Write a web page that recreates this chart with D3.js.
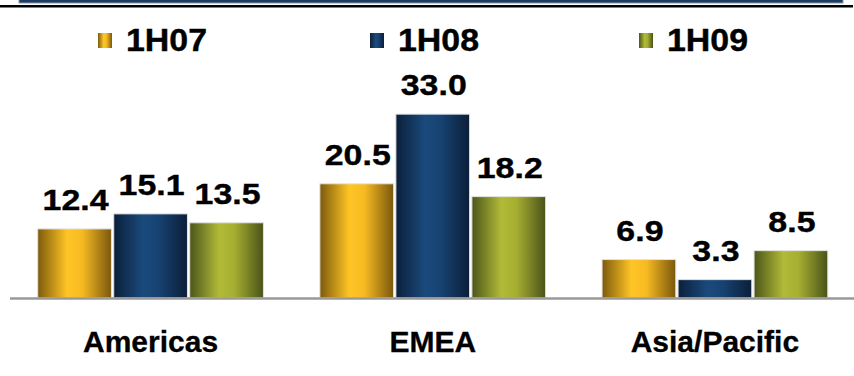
<!DOCTYPE html>
<html>
<head>
<meta charset="utf-8">
<script src="https://cdn.jsdelivr.net/npm/d3@7"></script>
<style>
  html, body { margin: 0; padding: 0; background: #fff; }
  svg { display: block; font-family: "Liberation Sans", Arial, Helvetica, sans-serif; }
</style>
</head>
<body>
<svg id="chart" width="854" height="376"></svg>
<script>
const categories = ["Americas", "EMEA", "Asia/Pacific"];
const seriesNames = ["1H07", "1H08", "1H09"];
const values1H07 = [12.4, 20.5, 6.9];
const values1H08 = [15.1, 33.0, 3.3];
const values1H09 = [13.5, 18.2, 8.5];
const seriesValues = [values1H07, values1H08, values1H09];

const W = 854, H = 376;
const svg = d3.select("#chart");
const defs = svg.append("defs");

const palettes = [
  { edgeL: "#7d5a0c", mid: "#ffc526", mid2: "#f7bb22", edgeR: "#7a570c" },
  { edgeL: "#0b1f3a", mid: "#1a4a7c", mid2: "#174373", edgeR: "#0b1e38" },
  { edgeL: "#4c561a", mid: "#b2ba38", mid2: "#a7af32", edgeR: "#4a5318" }
];
palettes.forEach((p, i) => {
  const g = defs.append("linearGradient").attr("id", "grad" + i)
    .attr("x1", "0%").attr("x2", "100%").attr("y1", "0%").attr("y2", "0%");
  g.append("stop").attr("offset", "0%").attr("stop-color", p.edgeL);
  g.append("stop").attr("offset", "40%").attr("stop-color", p.mid);
  g.append("stop").attr("offset", "60%").attr("stop-color", p.mid2);
  g.append("stop").attr("offset", "100%").attr("stop-color", p.edgeR);
});

// top decoration
svg.append("rect").attr("x", 19).attr("y", -2).attr("width", 824).attr("height", 5)
  .attr("fill", "#1c3a64").attr("stroke", "#8a98ad").attr("stroke-width", 1);
svg.append("rect").attr("x", 0).attr("y", 5).attr("width", 853).attr("height", 2.5).attr("fill", "#000");

const x0 = d3.scaleBand().domain(categories).range([9.5, 856]).paddingInner(0.2).paddingOuter(0.1);
const x1 = d3.scaleBand().domain(seriesNames).range([0, x0.bandwidth()]).paddingInner(0.03);
const y = d3.scaleLinear().domain([0, 35]).range([298, 103]);

const data = [];
categories.forEach((c, ci) => {
  seriesNames.forEach((s, si) => {
    data.push({ cat: c, series: s, si: si, value: seriesValues[si][ci] });
  });
});

const bars = svg.append("g");
bars.selectAll("rect").data(data).enter().append("rect")
  .attr("x", d => x0(d.cat) + x1(d.series))
  .attr("y", d => y(d.value))
  .attr("width", x1.bandwidth())
  .attr("height", d => y(0) - y(d.value))
  .attr("fill", d => "url(#grad" + d.si + ")")
  .attr("stroke", "#e2e2e2")
  .attr("stroke-width", 1);

// baseline axis
const axis = d3.axisBottom(x0).tickSize(0).tickFormat("");
const axG = svg.append("g").attr("transform", "translate(0," + y(0) + ")").call(axis);
axG.select(".domain").attr("stroke", "#999").attr("stroke-width", 2.5)
  .attr("d", "M10,0.5H854");

// value labels
svg.append("g").selectAll("text").data(data).enter().append("text")
  .attr("transform", d => "translate(" + (x0(d.cat) + x1(d.series) + x1.bandwidth() / 2 + 1) + "," + (y(d.value) - 19) + ") scale(1.13,1)")
  .attr("text-anchor", "middle")
  .attr("font-size", 30).attr("font-weight", "bold").attr("fill", "#000")
  .attr("stroke", "#000").attr("stroke-width", 0.4)
  .text(d => d.value.toFixed(1));

// category labels
svg.append("g").selectAll("text").data(categories).enter().append("text")
  .attr("x", d => x0(d) + x0.bandwidth() / 2)
  .attr("y", 352)
  .attr("text-anchor", "middle")
  .attr("font-size", 30).attr("font-weight", "bold").attr("fill", "#000")
  .attr("stroke", "#000").attr("stroke-width", 0.3)
  .text(d => d);

// legend
const legendX = [98, 370, 639];
const leg = svg.append("g").selectAll("g").data(seriesNames).enter().append("g")
  .attr("transform", (d, i) => "translate(" + legendX[i] + ",0)");
leg.append("rect").attr("x", 0).attr("y", 33).attr("width", 14).attr("height", 15)
  .attr("fill", (d, i) => "url(#grad" + i + ")");
leg.append("text")
  .attr("transform", "translate(28,51) scale(1.06,1)")
  .attr("font-size", 32).attr("font-weight", "bold").attr("fill", "#000")
  .attr("stroke", "#000").attr("stroke-width", 0.4)
  .text(d => d);
</script>
</body>
</html>
